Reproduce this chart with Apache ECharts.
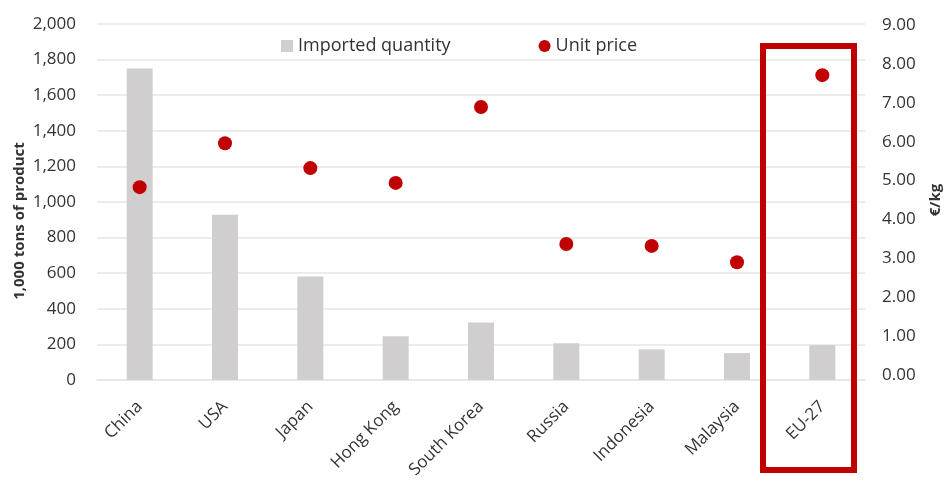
<!DOCTYPE html>
<html>
<head>
<meta charset="utf-8">
<script src="https://cdn.jsdelivr.net/npm/echarts@6/dist/echarts.min.js"></script>
<style>
  html, body { margin: 0; padding: 0; background: #fff; }
  #chart { width: 947px; height: 482px; }
</style>
</head>
<body>
<div id="chart"></div>
<script>
// Import destinations
const categories = ['China', 'USA', 'Japan', 'Hong Kong', 'South Korea', 'Russia', 'Indonesia', 'Malaysia', 'EU-27'];
// Imported quantity, 1,000 tons of product
const quantity = [1750, 928, 582, 246, 323, 206, 172, 151, 196];
// Unit price, €/kg
const unitPrice = [4.83, 5.96, 5.32, 4.94, 6.89, 3.37, 3.32, 2.90, 7.71];

const FONT = '"Open Sans", "Noto Sans", sans-serif';
const TEXT = '#333333';
const GRIDLINE = '#e6e6e6';

const chart = echarts.init(document.getElementById('chart'), null, { renderer: 'canvas' });

chart.setOption({
  animation: false,
  backgroundColor: '#ffffff',
  textStyle: { fontFamily: FONT },
  legend: {
    left: 276,
    top: 32,
    itemWidth: 12,
    itemHeight: 12,
    itemGap: 88,
    textStyle: { fontFamily: FONT, fontSize: 18, color: TEXT },
    data: [
      { name: 'Imported quantity', icon: 'rect' },
      { name: 'Unit price', icon: 'circle' }
    ]
  },
  grid: [
    { left: 97, right: 82, top: 24, bottom: 102, containLabel: false, outerBoundsMode: 'none' },
    { left: 97, right: 82, top: 25, bottom: 107, containLabel: false, outerBoundsMode: 'none' }
  ],
  xAxis: [
    {
      type: 'category',
      gridIndex: 0,
      data: categories,
      axisLine: { show: true, lineStyle: { color: GRIDLINE, width: 1.5 } },
      axisTick: { show: false },
      axisLabel: {
        rotate: 45,
        margin: 24,
        interval: 0,
        fontFamily: FONT,
        fontSize: 17,
        color: TEXT
      }
    },
    {
      type: 'category',
      gridIndex: 1,
      data: categories,
      show: false
    }
  ],
  yAxis: [
    {
      type: 'value',
      gridIndex: 0,
      min: 0,
      max: 2000,
      interval: 200,
      axisLine: { show: false },
      axisTick: { show: false },
      splitLine: { show: true, lineStyle: { color: GRIDLINE, width: 1.5 } },
      axisLabel: {
        margin: 21,
        fontFamily: FONT,
        fontSize: 17,
        color: TEXT,
        formatter: v => v.toLocaleString('en-US')
      }
    },
    {
      type: 'value',
      gridIndex: 1,
      position: 'right',
      min: 0,
      max: 9,
      interval: 1,
      axisLine: { show: false },
      axisTick: { show: false },
      splitLine: { show: false },
      axisLabel: {
        margin: 17,
        fontFamily: FONT,
        fontSize: 17,
        color: TEXT,
        formatter: v => v.toFixed(2)
      }
    }
  ],
  series: [
    {
      name: 'Imported quantity',
      type: 'bar',
      xAxisIndex: 0,
      yAxisIndex: 0,
      data: quantity,
      barWidth: 26,
      itemStyle: { color: '#d0cece' }
    },
    {
      name: 'Unit price',
      type: 'scatter',
      xAxisIndex: 1,
      yAxisIndex: 1,
      data: unitPrice,
      symbol: 'circle',
      symbolSize: 14,
      itemStyle: { color: '#c00000', opacity: 1 },
      z: 5
    }
  ],
  graphic: [
    {
      // left axis title
      type: 'text',
      rotation: Math.PI / 2,
      x: 20,
      y: 221,
      style: {
        text: '1,000 tons of product',
        fontFamily: FONT,
        fontSize: 15,
        fontWeight: 'bold',
        fill: TEXT,
        textAlign: 'center',
        textVerticalAlign: 'middle'
      }
    },
    {
      // right axis title
      type: 'text',
      rotation: Math.PI / 2,
      x: 936,
      y: 200,
      style: {
        text: '€/kg',
        fontFamily: FONT,
        fontSize: 15,
        fontWeight: 'bold',
        fill: TEXT,
        textAlign: 'center',
        textVerticalAlign: 'middle'
      }
    },
    {
      // highlight frame around the EU-27 column
      type: 'rect',
      shape: { x: 763, y: 46, width: 91, height: 424 },
      style: { fill: 'none', stroke: '#c00000', lineWidth: 6 },
      z: 10
    }
  ]
});
</script>
</body>
</html>
